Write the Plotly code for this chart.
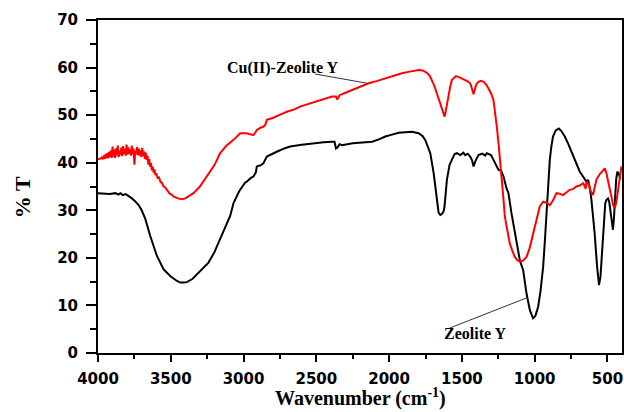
import plotly.graph_objects as go

# ---------------- data ----------------
wn_zeolite = [4000, 3960, 3920, 3880, 3860, 3846, 3830, 3810, 3790, 3767, 3745, 3721, 3700, 3675, 3641,
              3595, 3550, 3504, 3460, 3435, 3410, 3389, 3350, 3321, 3280, 3241, 3200, 3161, 3120, 3092,
              3069, 3030, 2990, 2978, 2950, 2932, 2915, 2909, 2880, 2863, 2840, 2800, 2772, 2720, 2680,
              2600, 2531, 2450, 2392, 2375, 2365, 2355, 2340, 2323, 2250, 2117, 2070, 2026, 1980, 1934,
              1890, 1843, 1797, 1770, 1752, 1735, 1717, 1694, 1672, 1660, 1648, 1637, 1625, 1619, 1603,
              1585, 1569, 1550, 1534, 1510, 1490, 1477, 1460, 1443, 1430, 1420, 1405, 1386, 1360, 1340,
              1329, 1300, 1283, 1265, 1248, 1230, 1214, 1193, 1180, 1160, 1148, 1120, 1102, 1079, 1056,
              1033, 1020, 1011, 995, 976, 960, 942, 930, 919, 907, 896, 885, 874, 855, 834,
              815, 793, 770, 745, 724, 705, 690, 670, 656, 644, 633, 620, 610, 598, 588,
              571, 558, 548, 541, 533, 525, 515, 507, 496, 488, 480, 470, 462, 455, 450,
              440, 432, 424, 416, 410]
t_zeolite = [33.6, 33.5, 33.4, 33.6, 33.3, 33.6, 33.2, 33.4, 33.0, 32.5, 31.9, 31.1, 30.0, 28.2, 24.6,
             20.4, 17.6, 16.2, 15.2, 14.8, 14.8, 14.9, 15.6, 16.5, 17.7, 19.0, 21.2, 23.9, 27.0, 28.8,
             31.5, 34.0, 35.8, 36.0, 36.8, 37.1, 38.0, 39.2, 39.5, 39.9, 41.3, 41.8, 42.3, 43.0, 43.4,
             43.8, 44.1, 44.3, 44.4, 44.4, 43.0, 43.2, 43.9, 43.7, 44.1, 44.4, 44.9, 45.5, 45.9, 46.3,
             46.4, 46.5, 46.2, 45.6, 44.8, 43.6, 42.0, 37.8, 32.2, 29.5, 29.0, 29.2, 29.8, 30.9, 36.4,
             39.5, 40.6, 41.8, 42.0, 41.6, 42.1, 41.6, 41.9, 41.3, 40.5, 39.2, 40.5, 41.6, 41.9, 41.5,
             42.0, 41.6, 40.6, 39.6, 38.5, 38.3, 37.1, 34.6, 33.6, 29.5, 27.3, 22.8, 19.5, 17.4, 12.5,
             9.0, 7.8, 7.3, 7.8, 9.7, 13.0, 18.0, 23.5, 30.0, 36.0, 40.6, 43.5, 45.5, 46.8, 47.2,
             46.6, 45.5, 44.0, 42.2, 40.6, 39.3, 38.1, 37.2, 36.4, 36.0, 36.4, 34.5, 32.2, 29.0, 25.2,
             18.1, 14.3, 16.0, 19.5, 24.0, 28.7, 31.5, 32.2, 32.5, 31.8, 30.0, 27.5, 25.9, 28.5, 32.2,
             36.5, 38.1, 37.8, 37.0, 36.6]

wn_cu = [4000, 3990, 3980, 3972, 3966, 3960, 3954, 3948, 3942, 3936, 3930, 3924, 3918, 3912, 3906,
         3900, 3894, 3888, 3882, 3876, 3870, 3864, 3858, 3852, 3846, 3840, 3834, 3828, 3822, 3816,
         3810, 3804, 3798, 3792, 3786, 3780, 3774, 3768, 3762, 3756, 3750, 3744, 3738, 3732, 3726,
         3720, 3714, 3708, 3702, 3696, 3690, 3684, 3678, 3672, 3666, 3660, 3654, 3648, 3642, 3636,
         3630, 3624, 3618, 3612, 3606, 3600, 3590, 3580, 3570, 3560, 3550, 3540, 3527, 3510, 3495,
         3481, 3450, 3424, 3400, 3370, 3344, 3300, 3252, 3200, 3161, 3120, 3069, 3023, 2980, 2950,
         2932, 2920, 2909, 2880, 2863, 2850, 2840, 2800, 2772, 2740, 2703, 2650, 2612, 2570, 2531,
         2460, 2392, 2365, 2358, 2350, 2340, 2300, 2255, 2200, 2140, 2080, 2026, 1970, 1912, 1850,
         1797, 1770, 1740, 1720, 1706, 1690, 1672, 1655, 1637, 1625, 1619, 1610, 1600, 1591, 1580,
         1569, 1555, 1541, 1520, 1500, 1475, 1454, 1440, 1428, 1420, 1410, 1400, 1386, 1370, 1351,
         1335, 1317, 1300, 1283, 1270, 1260, 1248, 1237, 1228, 1214, 1205, 1190, 1171, 1150, 1136,
         1120, 1102, 1080, 1056, 1035, 1011, 990, 965, 942, 920, 896, 875, 850, 830, 805,
         780, 759, 735, 713, 690, 667, 655, 650, 646, 644, 630, 615, 599, 588, 576,
         555, 530, 518, 507, 490, 473, 460, 450, 440, 427, 415, 404]
t_cu = [40.7, 40.8, 40.9, 41.2, 40.7, 41.5, 40.8, 41.8, 41.0, 42.0, 40.9, 42.3, 41.2, 42.6, 41.0,
        43.4, 41.3, 42.8, 41.0, 43.0, 41.5, 43.6, 41.2, 42.5, 41.6, 43.2, 41.4, 43.5, 41.8, 42.9,
        41.5, 43.8, 41.7, 43.2, 41.9, 42.8, 41.5, 43.6, 41.8, 43.0, 39.6, 42.5, 41.8, 43.3, 41.6,
        43.0, 41.5, 42.6, 41.2, 43.1, 41.4, 42.4, 40.8, 42.1, 40.6, 41.5, 39.6, 40.8, 39.2, 39.9,
        38.4, 39.2, 37.9, 38.6, 37.4, 37.8, 36.8, 36.9, 35.9, 35.8, 35.0, 34.9, 34.2, 33.6, 33.3,
        32.9, 32.5, 32.3, 32.5, 33.0, 33.6, 35.0, 37.1, 39.5, 42.0, 43.5, 44.8, 46.2, 46.2, 46.0,
        45.8, 46.3, 46.9, 47.4, 47.6, 48.0, 49.0, 49.4, 49.7, 50.2, 50.7, 51.2, 51.8, 52.2, 52.6,
        53.2, 53.9, 53.9, 53.3, 53.6, 54.2, 54.7, 55.3, 56.0, 56.7, 57.2, 57.7, 58.2, 58.8, 59.2,
        59.5, 59.4, 58.9, 58.2, 57.4, 56.2, 54.6, 53.0, 51.1, 49.9, 49.7, 51.0, 53.0, 54.6, 56.0,
        57.4, 57.9, 58.2, 58.0, 57.7, 57.4, 57.0, 56.5, 55.2, 54.4, 55.5, 56.5, 57.0, 57.2, 57.0,
        56.5, 55.6, 54.6, 53.2, 50.5, 47.6, 44.0, 40.6, 37.0, 32.2, 28.7, 26.0, 23.0, 21.2, 20.2,
        19.5, 19.2, 19.4, 20.2, 22.0, 25.2, 28.0, 30.8, 31.8, 31.6, 31.1, 32.0, 33.6, 33.5, 33.2,
        33.8, 34.3, 34.5, 35.0, 35.2, 35.7, 35.0, 34.5, 35.5, 36.0, 35.5, 34.0, 33.2, 34.8, 36.4,
        37.5, 38.5, 38.8, 37.8, 35.5, 32.9, 31.0, 30.4, 31.5, 34.3, 37.0, 39.2]

x_ticks = [4000, 3500, 3000, 2500, 2000, 1500, 1000, 500]
y_ticks = [0, 10, 20, 30, 40, 50, 60, 70]

label_cu = "Cu(II)-Zeolite Y"
label_zeolite = "Zeolite Y"
x_title = "Wavenumber (cm<sup>-1</sup>)"
y_title = "% T"

# ---------------- figure ----------------
fig = go.Figure()
fig.add_trace(go.Scatter(x=wn_zeolite, y=t_zeolite, mode="lines",
                         line=dict(color="black", width=2), name=label_zeolite,
                         showlegend=False))
fig.add_trace(go.Scatter(x=wn_cu, y=t_cu, mode="lines",
                         line=dict(color="#ff0000", width=2), name=label_cu,
                         showlegend=False))

tickfont = dict(family="DejaVu Sans", size=15, color="black", weight="bold")

fig.update_xaxes(range=[4000, 400], tickvals=x_ticks, ticktext=[str(v) for v in x_ticks],
                 ticks="outside", ticklen=7, tickwidth=2, tickcolor="black",
                 minor=dict(ticks="outside", ticklen=4, tickwidth=2, tickcolor="black", dtick=250, tick0=0),
                 showline=True, linewidth=2, linecolor="black", mirror=True,
                 showgrid=False, zeroline=False, tickfont=tickfont, ticklabelstandoff=4)
fig.update_yaxes(range=[0, 70], tickvals=y_ticks,
                 ticks="outside", ticklen=10, tickwidth=2, tickcolor="black",
                 minor=dict(ticks="outside", ticklen=6, tickwidth=2, tickcolor="black", dtick=5, tick0=0),
                 showline=True, linewidth=2, linecolor="black", mirror=True,
                 showgrid=False, zeroline=False, tickfont=tickfont, ticklabelstandoff=5)

serif = "Liberation Serif"
fig.add_annotation(x=2732, y=59.9, text=label_cu, showarrow=False,
                   font=dict(family=serif, size=16, color="black", weight="bold"))
fig.add_annotation(x=1407, y=4.06, text=label_zeolite, showarrow=False,
                   font=dict(family=serif, size=16, color="black", weight="bold"))
fig.add_shape(type="line", x0=2509, y0=58.65, x1=2149, y1=56.7, xref="x", yref="y",
              line=dict(color="#333333", width=1))
fig.add_shape(type="line", x0=1582, y0=5.26, x1=1054, y1=11.6, xref="x", yref="y",
              line=dict(color="#333333", width=1))

fig.add_annotation(xref="paper", yref="paper", x=0.5, y=0, yanchor="top", yshift=-31,
                   text=x_title, showarrow=False, borderpad=0,
                   font=dict(family=serif, size=20, color="black", weight="bold"))
fig.add_annotation(xref="paper", yref="paper", x=0, y=0.468, xanchor="center", xshift=-76,
                   text=y_title, textangle=-90, showarrow=False,
                   font=dict(family=serif, size=22, color="black", weight="bold"))

fig.update_layout(width=624, height=412, plot_bgcolor="white", paper_bgcolor="white",
                  margin=dict(l=98, r=2, t=20, b=59, autoexpand=False))

fig.write_html("out.html")
